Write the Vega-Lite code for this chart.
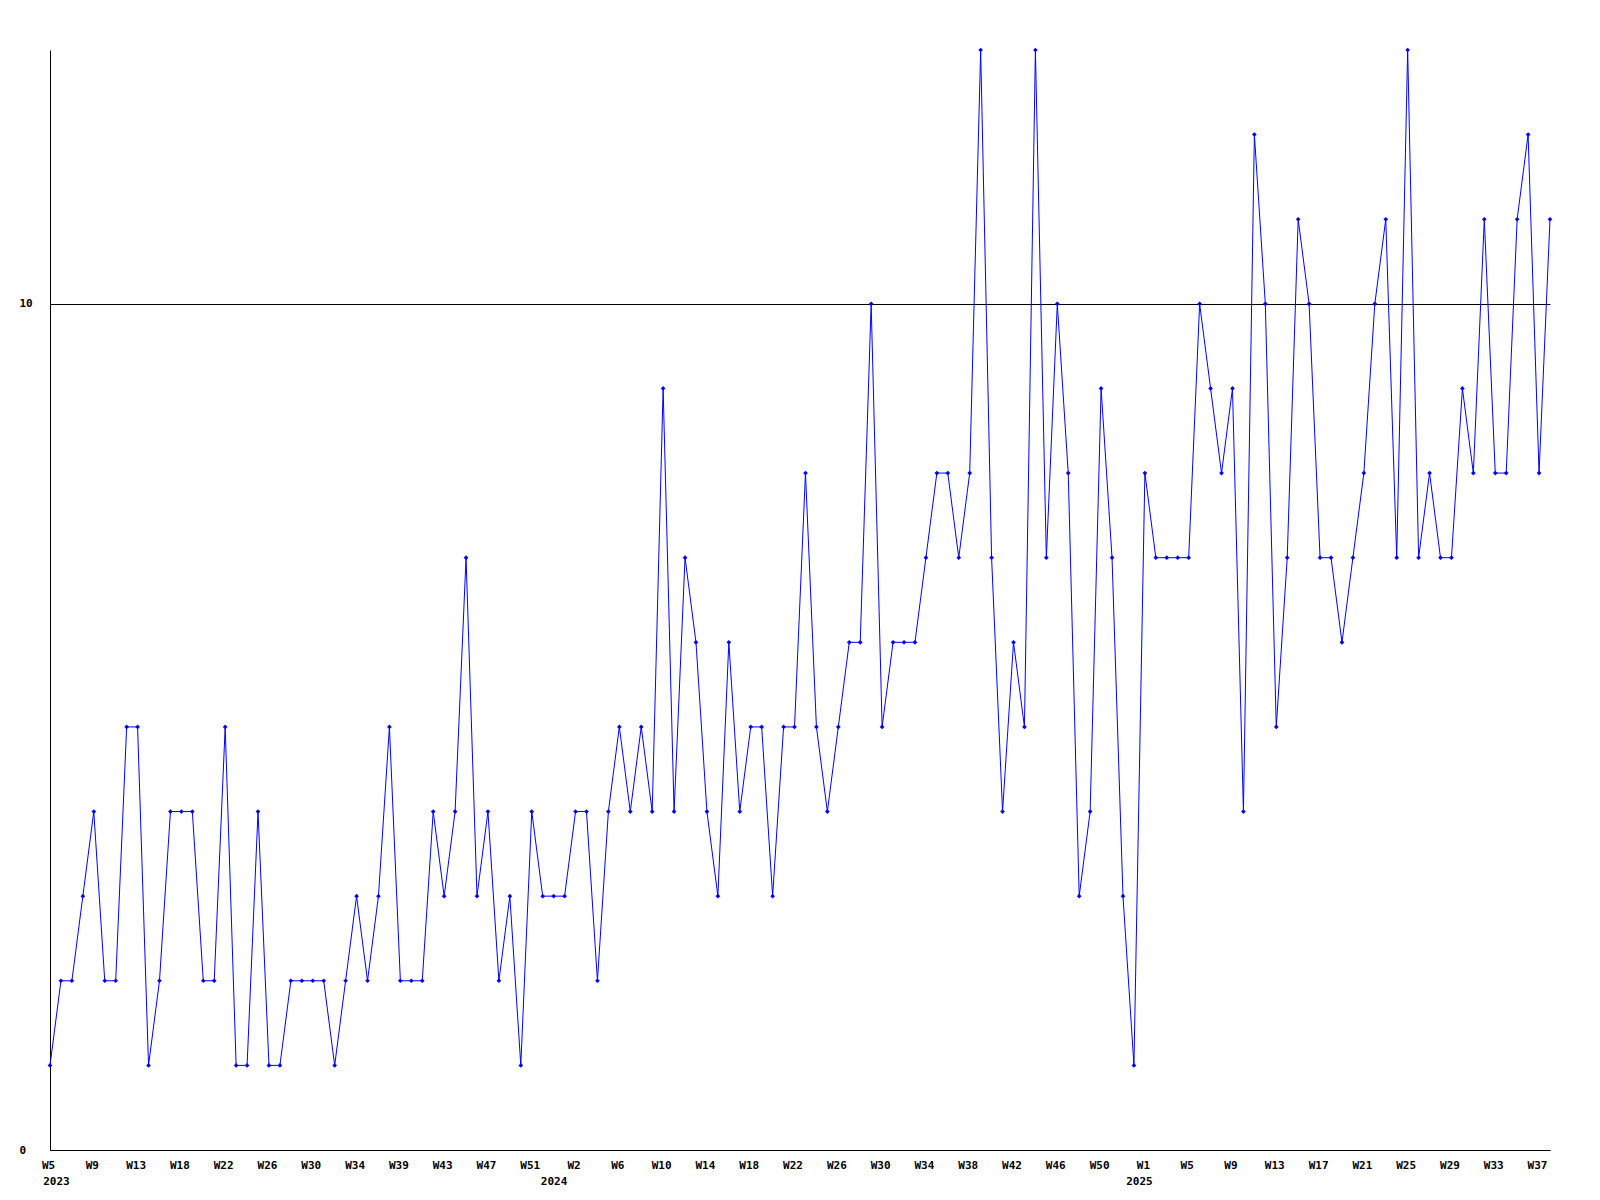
{
  "$schema": "https://vega.github.io/schema/vega-lite/v6.json",
  "width": 1500,
  "height": 1100,
  "padding": {"left": 19, "top": 47, "right": 10, "bottom": 0},
  "background": "white",
  "config": {"view": {"stroke": null}, "font": "DejaVu Sans Mono"},
  "data": {"values": [
    {"week": "2023-W05", "count": 1}, {"week": "2023-W06", "count": 2}, {"week": "2023-W07", "count": 2}, {"week": "2023-W08", "count": 3},
    {"week": "2023-W09", "count": 4}, {"week": "2023-W10", "count": 2}, {"week": "2023-W11", "count": 2}, {"week": "2023-W12", "count": 5},
    {"week": "2023-W13", "count": 5}, {"week": "2023-W14", "count": 1}, {"week": "2023-W15", "count": 2}, {"week": "2023-W16", "count": 4},
    {"week": "2023-W17", "count": 4}, {"week": "2023-W18", "count": 4}, {"week": "2023-W19", "count": 2}, {"week": "2023-W20", "count": 2},
    {"week": "2023-W21", "count": 5}, {"week": "2023-W22", "count": 1}, {"week": "2023-W23", "count": 1}, {"week": "2023-W24", "count": 4},
    {"week": "2023-W25", "count": 1}, {"week": "2023-W26", "count": 1}, {"week": "2023-W27", "count": 2}, {"week": "2023-W28", "count": 2},
    {"week": "2023-W29", "count": 2}, {"week": "2023-W30", "count": 2}, {"week": "2023-W31", "count": 1}, {"week": "2023-W32", "count": 2},
    {"week": "2023-W33", "count": 3}, {"week": "2023-W34", "count": 2}, {"week": "2023-W35", "count": 3}, {"week": "2023-W36", "count": 5},
    {"week": "2023-W37", "count": 2}, {"week": "2023-W38", "count": 2}, {"week": "2023-W39", "count": 2}, {"week": "2023-W40", "count": 4},
    {"week": "2023-W41", "count": 3}, {"week": "2023-W42", "count": 4}, {"week": "2023-W43", "count": 7}, {"week": "2023-W44", "count": 3},
    {"week": "2023-W45", "count": 4}, {"week": "2023-W46", "count": 2}, {"week": "2023-W47", "count": 3}, {"week": "2023-W48", "count": 1},
    {"week": "2023-W49", "count": 4}, {"week": "2023-W50", "count": 3}, {"week": "2023-W51", "count": 3}, {"week": "2023-W52", "count": 3},
    {"week": "2024-W01", "count": 4}, {"week": "2024-W02", "count": 4}, {"week": "2024-W03", "count": 2}, {"week": "2024-W04", "count": 4},
    {"week": "2024-W05", "count": 5}, {"week": "2024-W06", "count": 4}, {"week": "2024-W07", "count": 5}, {"week": "2024-W08", "count": 4},
    {"week": "2024-W09", "count": 9}, {"week": "2024-W10", "count": 4}, {"week": "2024-W11", "count": 7}, {"week": "2024-W12", "count": 6},
    {"week": "2024-W13", "count": 4}, {"week": "2024-W14", "count": 3}, {"week": "2024-W15", "count": 6}, {"week": "2024-W16", "count": 4},
    {"week": "2024-W17", "count": 5}, {"week": "2024-W18", "count": 5}, {"week": "2024-W19", "count": 3}, {"week": "2024-W20", "count": 5},
    {"week": "2024-W21", "count": 5}, {"week": "2024-W22", "count": 8}, {"week": "2024-W23", "count": 5}, {"week": "2024-W24", "count": 4},
    {"week": "2024-W25", "count": 5}, {"week": "2024-W26", "count": 6}, {"week": "2024-W27", "count": 6}, {"week": "2024-W28", "count": 10},
    {"week": "2024-W29", "count": 5}, {"week": "2024-W30", "count": 6}, {"week": "2024-W31", "count": 6}, {"week": "2024-W32", "count": 6},
    {"week": "2024-W33", "count": 7}, {"week": "2024-W34", "count": 8}, {"week": "2024-W35", "count": 8}, {"week": "2024-W36", "count": 7},
    {"week": "2024-W37", "count": 8}, {"week": "2024-W38", "count": 13}, {"week": "2024-W39", "count": 7}, {"week": "2024-W40", "count": 4},
    {"week": "2024-W41", "count": 6}, {"week": "2024-W42", "count": 5}, {"week": "2024-W43", "count": 13}, {"week": "2024-W44", "count": 7},
    {"week": "2024-W45", "count": 10}, {"week": "2024-W46", "count": 8}, {"week": "2024-W47", "count": 3}, {"week": "2024-W48", "count": 4},
    {"week": "2024-W49", "count": 9}, {"week": "2024-W50", "count": 7}, {"week": "2024-W51", "count": 3}, {"week": "2024-W52", "count": 1},
    {"week": "2025-W01", "count": 8}, {"week": "2025-W02", "count": 7}, {"week": "2025-W03", "count": 7}, {"week": "2025-W04", "count": 7},
    {"week": "2025-W05", "count": 7}, {"week": "2025-W06", "count": 10}, {"week": "2025-W07", "count": 9}, {"week": "2025-W08", "count": 8},
    {"week": "2025-W09", "count": 9}, {"week": "2025-W10", "count": 4}, {"week": "2025-W11", "count": 12}, {"week": "2025-W12", "count": 10},
    {"week": "2025-W13", "count": 5}, {"week": "2025-W14", "count": 7}, {"week": "2025-W15", "count": 11}, {"week": "2025-W16", "count": 10},
    {"week": "2025-W17", "count": 7}, {"week": "2025-W18", "count": 7}, {"week": "2025-W19", "count": 6}, {"week": "2025-W20", "count": 7},
    {"week": "2025-W21", "count": 8}, {"week": "2025-W22", "count": 10}, {"week": "2025-W23", "count": 11}, {"week": "2025-W24", "count": 7},
    {"week": "2025-W25", "count": 13}, {"week": "2025-W26", "count": 7}, {"week": "2025-W27", "count": 8}, {"week": "2025-W28", "count": 7},
    {"week": "2025-W29", "count": 7}, {"week": "2025-W30", "count": 9}, {"week": "2025-W31", "count": 8}, {"week": "2025-W32", "count": 11},
    {"week": "2025-W33", "count": 8}, {"week": "2025-W34", "count": 8}, {"week": "2025-W35", "count": 11}, {"week": "2025-W36", "count": 12},
    {"week": "2025-W37", "count": 8}, {"week": "2025-W38", "count": 11}
  ]},
  "encoding": {
    "x": {
      "field": "week", "type": "ordinal", "sort": null,
      "scale": {"type": "point", "padding": 0},
      "axis": {
        "title": null,
        "values": ["2023-W05","2023-W09","2023-W13","2023-W17","2023-W21","2023-W25","2023-W29","2023-W33","2023-W37","2023-W41","2023-W45","2023-W49",
                   "2024-W01","2024-W05","2024-W09","2024-W13","2024-W17","2024-W21","2024-W25","2024-W29","2024-W33","2024-W37","2024-W41","2024-W45","2024-W49",
                   "2025-W01","2025-W05","2025-W09","2025-W13","2025-W17","2025-W21","2025-W25","2025-W29","2025-W33","2025-W37"],
        "labelExpr": "{'2023-W05':['W5','\u2800\u28002023'],'2023-W09':'W9','2023-W13':'W13','2023-W17':'W18','2023-W21':'W22','2023-W25':'W26','2023-W29':'W30','2023-W33':'W34','2023-W37':'W39','2023-W41':'W43','2023-W45':'W47','2023-W49':'W51','2024-W01':['W2','2024\u2800\u2800\u2800\u2800\u2800'],'2024-W05':'W6','2024-W09':'W10','2024-W13':'W14','2024-W17':'W18','2024-W21':'W22','2024-W25':'W26','2024-W29':'W30','2024-W33':'W34','2024-W37':'W38','2024-W41':'W42','2024-W45':'W46','2024-W49':'W50','2025-W01':['W1','2025\u2800'],'2025-W05':'W5','2025-W09':'W9','2025-W13':'W13','2025-W17':'W17','2025-W21':'W21','2025-W25':'W25','2025-W29':'W29','2025-W33':'W33','2025-W37':'W37'}[datum.value]",
        "ticks": false,
        "grid": false,
        "domainColor": "black",
        "domainWidth": 1,
        "labelAngle": 0,
        "labelAlign": "center",
        "labelBaseline": "top",
        "labelPadding": 9,
        "labelOffset": -2,
        "labelFont": "DejaVu Sans Mono",
        "labelFontWeight": "bold",
        "labelFontSize": 11,
        "labelColor": "black",
        "labelLineHeight": 16,
        "labelOverlap": false
      }
    },
    "y": {
      "field": "count", "type": "quantitative",
      "scale": {"domain": [0, 13], "nice": false, "zero": true},
      "axis": {
        "title": null,
        "values": [0, 10],
        "ticks": false,
        "grid": true,
        "gridColor": "black",
        "gridOpacity": 1,
        "gridWidth": 1,
        "domainColor": "black",
        "domainWidth": 1,
        "labelAlign": "left",
        "labelBaseline": "middle",
        "labelPadding": 31,
        "labelFont": "DejaVu Sans Mono",
        "labelFontWeight": "bold",
        "labelFontSize": 11,
        "labelColor": "black"
      }
    }
  },
  "layer": [
    {"mark": {"type": "line", "color": "#0000ff", "strokeWidth": 1}},
    {"mark": {"type": "point", "shape": "diamond", "filled": true, "color": "#0000ff", "size": 22, "opacity": 1}}
  ]
}
